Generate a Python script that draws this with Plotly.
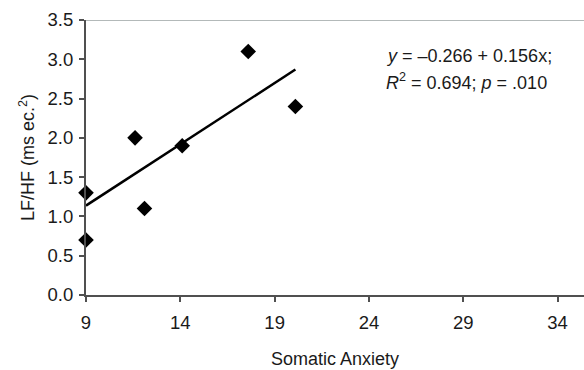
import plotly.graph_objects as go

somatic_anxiety = [9, 9, 11.6, 12.1, 14.1, 17.6, 20.1]
lf_hf = [1.3, 0.7, 2.0, 1.1, 1.9, 3.1, 2.4]
intercept = -0.266
slope = 0.156
x_ticks = [9, 14, 19, 24, 29, 34]
y_ticks = [0.0, 0.5, 1.0, 1.5, 2.0, 2.5, 3.0, 3.5]

FONT = "Liberation Sans, Arial, sans-serif"
AXIS_COLOR = "#505050"

x_line = [min(somatic_anxiety), max(somatic_anxiety)]
y_line = [intercept + slope * v for v in x_line]

fig = go.Figure()
fig.add_trace(go.Scatter(x=x_line, y=y_line, mode="lines",
                         line=dict(color="black", width=2.5),
                         cliponaxis=False, showlegend=False, hoverinfo="skip"))
fig.add_trace(go.Scatter(x=somatic_anxiety, y=lf_hf, mode="markers",
                         marker=dict(symbol="diamond", size=12, color="black"),
                         cliponaxis=False, showlegend=False))

fig.add_shape(type="line", xref="paper", yref="y", x0=0, x1=1, y0=3.5, y1=3.5,
              line=dict(color="#9aa2a2", width=1.5), layer="below")

fig.update_layout(
    width=584, height=370,
    margin=dict(l=86, r=0, t=20, b=75),
    paper_bgcolor="white", plot_bgcolor="white",
    font=dict(family=FONT, size=18, color="#1a1a1a"),
    xaxis=dict(range=[9, 35.4], tickvals=x_ticks, ticktext=[str(v) for v in x_ticks],
               showgrid=False, zeroline=False, showline=True, linecolor=AXIS_COLOR,
               linewidth=2, ticks="outside", ticklen=5, tickwidth=1.5, tickcolor=AXIS_COLOR,
               ticklabelstandoff=5, tickfont=dict(size=18.5),
               title=dict(text="Somatic Anxiety", standoff=20, font=dict(size=18))),
    yaxis=dict(range=[0, 3.5], tickvals=y_ticks, ticktext=[f"{v:.1f}" for v in y_ticks],
               showgrid=False, zeroline=False, showline=True, linecolor=AXIS_COLOR,
               linewidth=2, ticks="outside", ticklen=5, tickwidth=1.5, tickcolor=AXIS_COLOR,
               ticklabelstandoff=2, tickfont=dict(size=18.5),
               title=dict(text="LF/HF (ms ec.<sup>2</sup>)", standoff=8, font=dict(size=18))),
)

fig.add_annotation(x=24.8, y=3.04, xref="x", yref="y", xanchor="left", yanchor="middle",
                   text="<i>y</i> = –0.266 + 0.156x;", showarrow=False,
                   font=dict(family=FONT, size=18, color="#1a1a1a"))
fig.add_annotation(x=24.8, y=2.72, xref="x", yref="y", xanchor="left", yanchor="middle",
                   text="<i>R</i><sup>2</sup> = 0.694; <i>p</i> = .010", showarrow=False,
                   font=dict(family=FONT, size=18, color="#1a1a1a"))

fig.write_html("out.html")
